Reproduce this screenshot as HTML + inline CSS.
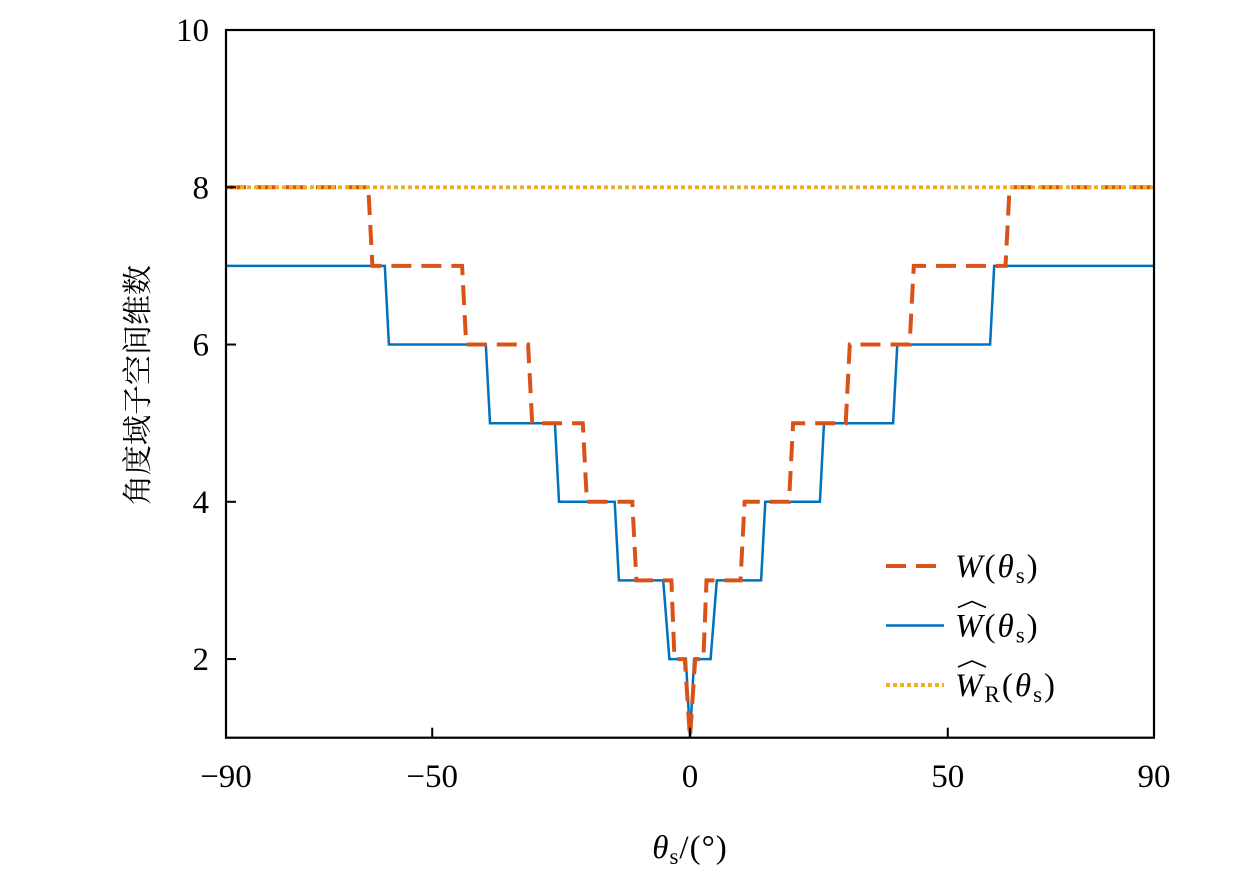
<!DOCTYPE html>
<html><head><meta charset="utf-8"><style>
html,body{margin:0;padding:0;background:#fff;}
svg text{font-family:"Liberation Serif","Noto Serif CJK SC",serif;}
</style></head><body>
<svg id="chart" width="1260" height="882" xmlns="http://www.w3.org/2000/svg">
<rect x="0" y="0" width="1260" height="882" fill="#fff"/>
<g id="plot"></g>
</svg>
<script>
const xTicks=[-90,-50,0,50,90];
const yTicks=[2,4,6,8,10];
const wX=[-90,-62.4,-61.6,-44.2,-43.4,-31.4,-30.6,-20.8,-20.0,-11.2,-10.4,-3.6,-3.0,-1,0,1,2.6,3.2,9.8,10.6,19.2,20.0,30.2,31.0,42.6,43.4,61.2,62.0,90];
const wY=[8,8,7,7,6,6,5,5,4,4,3,3,2,2,1,2,2,3,3,4,4,5,5,6,6,7,7,8,8];
const whX=[-90,-59.2,-58.4,-39.6,-38.8,-26.2,-25.4,-14.6,-13.8,-5.2,-4.0,-0.8,0,0.8,4.0,5.2,13.8,14.6,25.2,26.0,39.4,40.2,58.2,59.0,90];
const whY=[7,7,6,6,5,5,4,4,3,3,2,2,1,2,2,3,3,4,4,5,5,6,6,7,7];
const wrX=[-90,90];
const wrY=[8,8];
const L=226,R=1154,T=30,B=737.7;
const xs=v=>L+(v+90)/180*(R-L);
const ys=v=>B-(v-1)/9*(B-T);
const NS='http://www.w3.org/2000/svg';
const g=document.getElementById('plot');
function mk(t,a){const e=document.createElementNS(NS,t);for(const k in a)e.setAttribute(k,a[k]);g.appendChild(e);return e;}
function pts(X,Y){return X.map((x,i)=>xs(x).toFixed(1)+','+ys(Y[i]).toFixed(1)).join(' ');}
let e;
e=mk('polyline',{points:pts(whX,whY),fill:'none',stroke:'#0072BD','stroke-width':2.5});


e=mk('polyline',{points:pts(wX,wY),fill:'none',stroke:'#D95319','stroke-width':4,'stroke-dasharray':'20 10'});


e=mk('polyline',{points:pts(wrX,wrY),fill:'none',stroke:'#EDB120','stroke-width':4,'stroke-dasharray':'4 3'});


e=mk('rect',{x:L,y:T,width:R-L,height:B-T,fill:'none',stroke:'#000','stroke-width':2.2});


xTicks.forEach(v=>{
 const t=mk('line',{x1:xs(v),x2:xs(v),y1:B,y2:B-10,stroke:'#000','stroke-width':2});
 
 
 const l=mk('text',{x:xs(v),y:787,'text-anchor':'middle','font-size':33});
 l.textContent=v<0?'\u2212'+(-v):String(v);
 
 
});
yTicks.forEach(v=>{
 const t=mk('line',{x1:L,x2:L+10,y1:ys(v),y2:ys(v),stroke:'#000','stroke-width':2});
 
 
 const l=mk('text',{x:209,y:ys(v)+11,'text-anchor':'end','font-size':33});
 l.textContent=String(v);
 
 
});
e=mk('text',{x:0,y:0,'font-size':30,'text-anchor':'middle',transform:'translate(148,385) rotate(-90)'});
e.textContent='角度域子空间维数';


e=mk('text',{x:690,y:858,'font-size':33,'text-anchor':'middle','letter-spacing':1});
e.innerHTML='<tspan font-style="italic">θ</tspan><tspan font-size="23" dy="6">s</tspan><tspan dy="-6">/(°)</tspan>';


const leg=[['#D95319','20 10','W',''],['#0072BD','','W',''],['#EDB120','4 3','W','R']];
leg.forEach((d,i)=>{
 const y=566+i*59.5;
 const ln=mk('line',{x1:886,x2:944,y1:y,y2:y,stroke:d[0],'stroke-width':d[1]==''?2.5:4});
 if(d[1])ln.setAttribute('stroke-dasharray',d[1]);
 
 
 if(i>0){const h=mk('path',{d:`M958 ${y-18} L972 ${y-24} L986 ${y-18}`,fill:'none',stroke:'#000','stroke-width':1.6});
  
  }
 const t=mk('text',{x:955,y:y+11,'font-size':33,'letter-spacing':2});
 t.innerHTML='<tspan font-style="italic">W</tspan>'+(d[3]?'<tspan font-size="23" dy="6">R</tspan><tspan dy="-6">(</tspan>':'<tspan>(</tspan>')+'<tspan font-style="italic">θ</tspan><tspan font-size="23" dy="6">s</tspan><tspan dy="-6">)</tspan>';
 
 
});
</script>
</body></html>
